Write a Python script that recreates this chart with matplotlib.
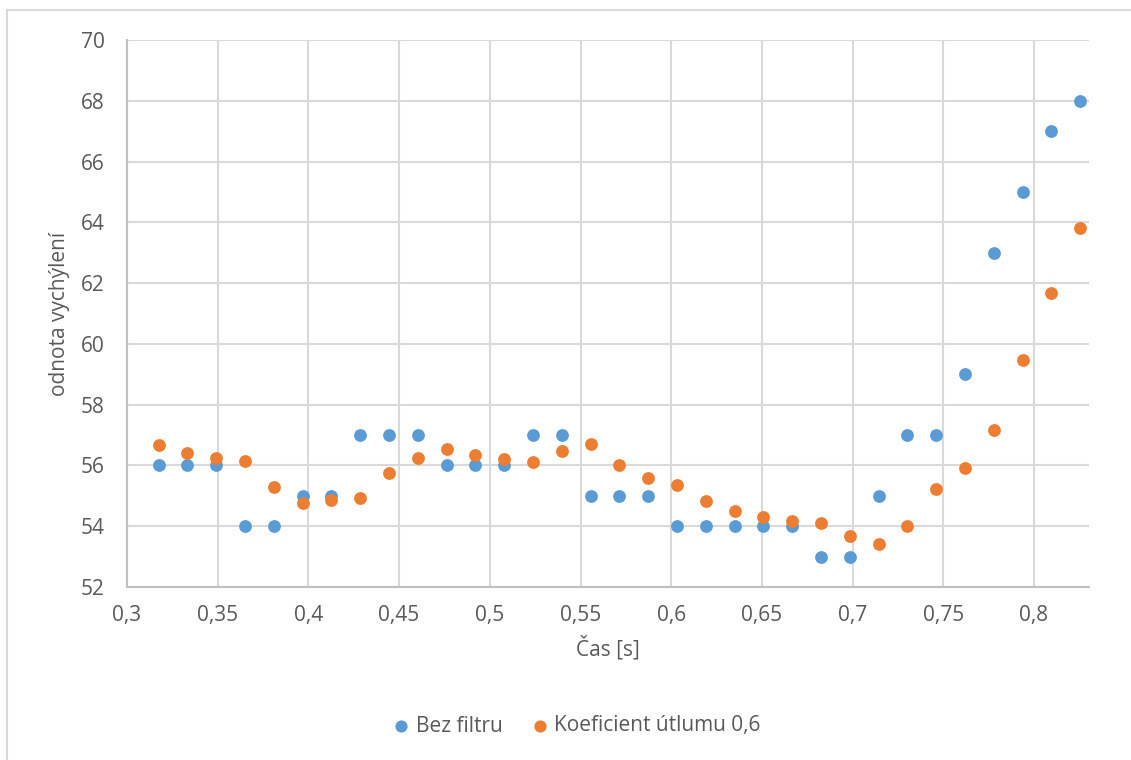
import matplotlib.pyplot as plt
import matplotlib.patches as patches
from matplotlib.ticker import FuncFormatter, MultipleLocator

# time of each frame [s]
cas = [0.3175, 0.3333, 0.3492, 0.3651, 0.3810, 0.3968, 0.4127, 0.4286, 0.4444,
       0.4603, 0.4762, 0.4921, 0.5079, 0.5238, 0.5397, 0.5556, 0.5714, 0.5873,
       0.6032, 0.6190, 0.6349, 0.6508, 0.6667, 0.6825, 0.6984, 0.7143, 0.7302,
       0.7460, 0.7619, 0.7778, 0.7937, 0.8095, 0.8254]

bez_filtru = [56, 56, 56, 54, 54, 55, 55, 57, 57, 57, 56, 56, 56, 57, 57, 55, 55,
              55, 54, 54, 54, 54, 54, 53, 53, 55, 57, 57, 59, 63, 65, 67, 68]

koef_06 = [56.68, 56.41, 56.25, 56.15, 55.29, 54.77, 54.87, 54.92, 55.76, 56.25,
           56.55, 56.33, 56.21, 56.12, 56.46, 56.69, 56.02, 55.60, 55.36, 54.82,
           54.49, 54.30, 54.18, 54.10, 53.68, 53.41, 54.02, 55.22, 55.92, 57.15,
           59.48, 61.69, 63.80]

labels = ['Bez filtru', 'Koeficient útlumu 0,6']

text_color = '#595959'
plt.rcParams['font.family'] = ['Open Sans', 'DejaVu Sans']

fig = plt.figure(figsize=(11.31, 7.6), dpi=100)
ax = fig.add_axes([127 / 1131, 1 - 587 / 760, 962 / 1131, 547 / 760])

# chart area border (cut off at right and bottom like in the original)
fig.patches.append(patches.Rectangle((7 / 1131, -0.1), 1.2, 1.1 - 10 / 760,
                                     transform=fig.transFigure, fill=False,
                                     edgecolor='#d9d9d9', linewidth=1.5))

ax.scatter(cas, bez_filtru, s=85, color='#5B9BD5', label=labels[0], zorder=3, linewidths=0)
ax.scatter(cas, koef_06, s=85, color='#ED7D31', label=labels[1], zorder=3, linewidths=0)

ax.set_xlim(0.3, 0.8303)
ax.set_ylim(52, 70)
ax.xaxis.set_major_locator(MultipleLocator(0.05))
ax.yaxis.set_major_locator(MultipleLocator(2))
ax.xaxis.set_major_formatter(FuncFormatter(lambda v, p: f'{v:.2f}'.rstrip('0').replace('.', ',')))
ax.yaxis.set_major_formatter(FuncFormatter(lambda v, p: f'{v:.0f}'))

ax.grid(True, color='#d9d9d9', linewidth=1.5)
ax.set_axisbelow(True)
for side in ['top', 'right']:
    ax.spines[side].set_visible(False)
for side in ['left', 'bottom']:
    ax.spines[side].set_color('#bfbfbf')
    ax.spines[side].set_linewidth(1.5)

ax.tick_params(axis='both', length=0, labelsize=15, colors=text_color)
ax.tick_params(axis='y', pad=16)
ax.tick_params(axis='x', pad=13)

ax.set_xlabel('Čas [s]', fontsize=15, color=text_color, labelpad=7)
ax.set_ylabel('odnota vychýlení', fontsize=15, color=text_color, labelpad=8)

fig.legend(loc='center', bbox_to_anchor=(0.51, 1 - 726 / 760), ncol=2, frameon=False,
           fontsize=15, labelcolor=text_color, handlelength=0.8, handletextpad=0.3,
           columnspacing=1.4, markerscale=0.95)

fig.savefig('out.png', dpi=100)
